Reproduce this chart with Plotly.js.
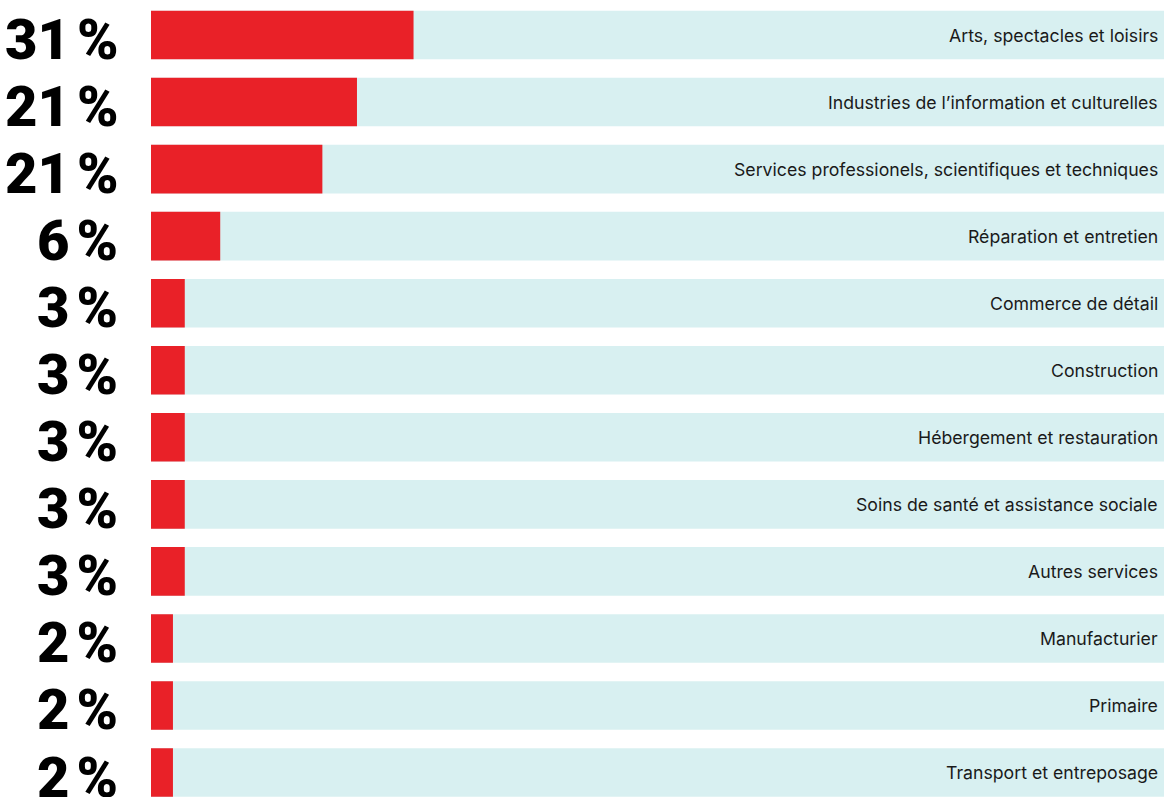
<!DOCTYPE html>
<html><head><meta charset="utf-8">
<script src="https://cdn.plot.ly/plotly-3.0.1.min.js"></script>
<style>html,body{margin:0;padding:0;background:#fff}#chart{width:1164px;height:797px}</style>
</head><body><div id="chart"></div>
<script>
const categories = [
  "Arts, spectacles et loisirs",
  "Industries de l’information et culturelles",
  "Services professionels, scientifiques et techniques",
  "Réparation et entretien",
  "Commerce de détail",
  "Construction",
  "Hébergement et restauration",
  "Soins de santé et assistance sociale",
  "Autres services",
  "Manufacturier",
  "Primaire",
  "Transport et entreposage"
];
const pctLabels = ["31\u202f%","21\u202f%","21\u202f%","6\u202f%","3\u202f%","3\u202f%","3\u202f%","3\u202f%","3\u202f%","2\u202f%","2\u202f%","2\u202f%"];
const barValues = [31.1, 24.4, 20.3, 8.2, 4.0, 4.0, 4.0, 4.0, 4.0, 2.6, 2.6, 2.6];
const fullValue = 120;
const fullValues = categories.map(() => fullValue);

const traces = [
  {type:'bar', orientation:'h', y:categories, x:fullValues, marker:{color:'#d8f0f1'}, width:0.725, hoverinfo:'skip'},
  {type:'bar', orientation:'h', y:categories, x:barValues, marker:{color:'#e92128'}, width:0.725}
];
const annotations = [];
categories.forEach((c,i)=>{
  annotations.push({xref:'paper', x:0, xanchor:'right', xshift:-31, yref:'y', y:c, yanchor:'middle', yshift:-5,
    text:pctLabels[i], showarrow:false, font:{family:'Roboto, sans-serif', size:56, weight:900, color:'#000'}});
  annotations.push({xref:'paper', x:1, xanchor:'right', xshift:-4, yref:'y', y:c, yanchor:'middle',
    text:c, showarrow:false, font:{family:'Inter, Roboto, sans-serif', size:17.7, color:'#1a1a1a'}});
});
const layout = {
  width:1164, height:797,
  margin:{l:151, r:0, t:0, b:0},
  barmode:'overlay', showlegend:false,
  paper_bgcolor:'#fff', plot_bgcolor:'#fff',
  xaxis:{range:[0, fullValue], visible:false, fixedrange:true},
  yaxis:{range:[11.365, -0.522], visible:false, type:'category', categoryorder:'array', categoryarray:categories},
  annotations:annotations
};
Plotly.newPlot('chart', traces, layout, {displayModeBar:false, staticPlot:true});
</script></body></html>
